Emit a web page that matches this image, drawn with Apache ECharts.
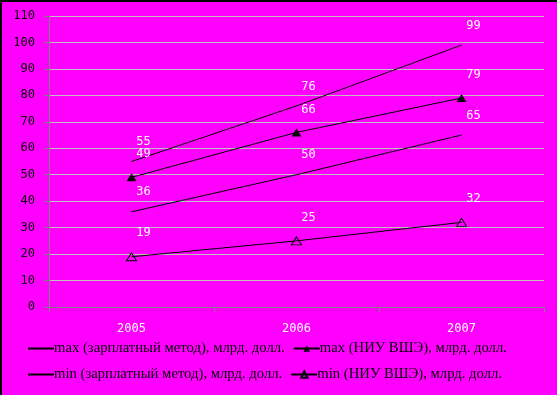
<!DOCTYPE html>
<html><head><meta charset="utf-8">
<script src="https://cdn.jsdelivr.net/npm/echarts@6/dist/echarts.min.js"></script>
<style>html,body{margin:0;padding:0;background:#ff00ff}#c{width:557px;height:395px}</style>
</head><body><div id="c"></div>
<script>
const categories = ['2005', '2006', '2007'];
const maxSalary = [55, 76, 99];
const maxHSE = [49, 66, 79];
const minSalary = [36, 50, 65];
const minHSE = [19, 25, 32];
const yTicks = [0, 10, 20, 30, 40, 50, 60, 70, 80, 90, 100, 110];
const names = [
  'max (зарплатный метод), млрд. долл.',
  'max (НИУ ВШЭ), млрд. долл.',
  'min (зарплатный метод), млрд. долл.',
  'min (НИУ ВШЭ), млрд. долл.'
];

const mono = 'DejaVu Sans Mono';
const labelCfg = {show: true, position: 'top', offset: [12, -8], color: '#ffffff', fontFamily: mono, fontSize: 12};
function mk(name, data, symbol, itemStyle, size) {
  return {
    name: name, type: 'line', data: data,
    symbol: symbol, symbolSize: size, showSymbol: true,
    lineStyle: {color: '#000', width: 1},
    itemStyle: itemStyle,
    label: labelCfg, animation: false
  };
}
const hidden = {color: 'rgba(0,0,0,0)'};
const legendCommon = {
  left: 27, padding: 0, itemWidth: 26, itemHeight: 8, itemGap: 8,
  textStyle: {fontFamily: 'Liberation Serif', fontSize: 14.7, color: '#000', padding: [0, 0, 0, -5]},
};
const chart = echarts.init(document.getElementById('c'), null, {renderer: 'canvas'});
chart.setOption({
  backgroundColor: '#ff00ff',
  animation: false,
  grid: {left: 49, right: 13, top: 16, bottom: 88},
  xAxis: {
    type: 'category', data: categories, boundaryGap: true,
    axisLine: {lineStyle: {color: '#808080', width: 1}},
    axisTick: {show: true, length: 5, lineStyle: {color: '#808080'}},
    axisLabel: {color: '#ffffff', fontFamily: mono, fontSize: 12, margin: 16}
  },
  yAxis: {
    type: 'value', min: yTicks[0], max: yTicks[yTicks.length - 1], interval: 10,
    axisLine: {show: true, lineStyle: {color: '#808080'}},
    axisTick: {show: true, length: 5, lineStyle: {color: '#808080'}},
    axisLabel: {color: '#000', fontFamily: mono, fontSize: 12, margin: 14},
    splitLine: {lineStyle: {color: '#c0c0c0', width: 1}}
  },
  legend: [
    Object.assign({}, legendCommon, {top: 341, data: [names[0], names[1]]}),
    Object.assign({}, legendCommon, {top: 367, data: [names[2], names[3]]})
  ],
  series: [
    mk(names[0], maxSalary, 'circle', hidden, 1),
    mk(names[1], maxHSE, 'triangle', {color: '#000'}, [10, 8]),
    mk(names[2], minSalary, 'circle', hidden, 1),
    mk(names[3], minHSE, 'triangle', {color: 'rgba(0,0,0,0)', borderColor: '#000', borderWidth: 1}, [10, 8])
  ],
  graphic: [
    {type: 'rect', left: 0, top: 0, shape: {width: 557, height: 2}, style: {fill: '#000'}},
    {type: 'rect', left: 0, top: 0, shape: {width: 2, height: 395}, style: {fill: '#000'}}
  ]
});
</script></body></html>
